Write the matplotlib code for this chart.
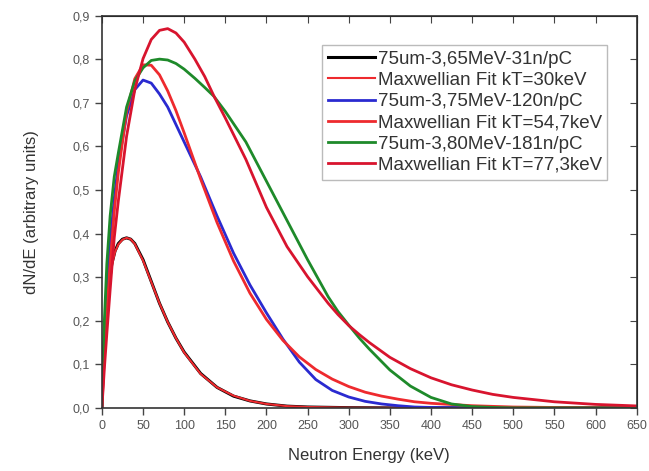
import matplotlib
matplotlib.use("Agg")
import matplotlib.pyplot as plt
from matplotlib.ticker import FuncFormatter, MultipleLocator

plt.rcParams['font.family'] = ['Liberation Sans', 'DejaVu Sans']

# energies (keV) and dN/dE values
e_30 = [0, 2, 5, 8, 12, 16, 20, 25, 30, 35, 40, 50, 60, 70, 80, 90, 100, 120, 140, 160,
        180, 200, 225, 250, 300, 350, 400, 500, 650]
black_31 = [0, 0.12, 0.20, 0.27, 0.33, 0.36, 0.377, 0.387, 0.39, 0.387, 0.377, 0.34, 0.29,
            0.24, 0.197, 0.16, 0.128, 0.079, 0.047, 0.027, 0.016, 0.009, 0.004, 0.002,
            0.0005, 0, 0, 0, 0]
fit_30 = [0, 0.10, 0.19, 0.265, 0.325, 0.358, 0.375, 0.386, 0.39, 0.387, 0.376, 0.338,
          0.289, 0.24, 0.197, 0.16, 0.127, 0.078, 0.047, 0.028, 0.016, 0.009, 0.004,
          0.002, 0.0005, 0.0001, 0, 0, 0]

e_547 = [0, 3, 6, 10, 15, 20, 30, 40, 50, 60, 70, 80, 90, 100, 120, 140, 160, 180, 200,
         220, 240, 260, 280, 300, 320, 340, 360, 380, 400, 450, 500, 550, 650]
blue_120 = [0, 0.17, 0.28, 0.38, 0.48, 0.56, 0.67, 0.73, 0.752, 0.745, 0.72, 0.69, 0.65,
            0.61, 0.53, 0.44, 0.355, 0.282, 0.218, 0.158, 0.105, 0.065, 0.040, 0.025,
            0.015, 0.009, 0.005, 0.002, 0.001, 0, 0, 0, 0]
fit_547 = [0, 0.12, 0.22, 0.33, 0.45, 0.54, 0.68, 0.755, 0.787, 0.786, 0.764, 0.727,
           0.682, 0.631, 0.525, 0.425, 0.337, 0.263, 0.203, 0.155, 0.117, 0.088, 0.066,
           0.049, 0.036, 0.027, 0.020, 0.014, 0.0105, 0.005, 0.002, 0.001, 0]

e_773 = [0, 3, 6, 10, 15, 20, 30, 40, 50, 60, 70, 80, 90, 100, 113, 125, 136, 150, 175,
         200, 225, 250, 275, 287, 300, 313, 325, 350, 375, 400, 425, 450, 475, 500, 550,
         600, 650]
green_181 = [0, 0.20, 0.33, 0.44, 0.53, 0.585, 0.69, 0.75, 0.78, 0.797, 0.80, 0.798,
             0.79, 0.777, 0.756, 0.735, 0.715, 0.68, 0.61, 0.52, 0.43, 0.34, 0.255,
             0.221, 0.19, 0.16, 0.135, 0.087, 0.05, 0.024, 0.009, 0.003, 0.001, 0, 0, 0, 0]
fit_773 = [0, 0.09, 0.17, 0.27, 0.39, 0.475, 0.623, 0.73, 0.801, 0.845, 0.866, 0.87,
           0.86, 0.839, 0.80, 0.76, 0.716, 0.665, 0.57, 0.46, 0.37, 0.301, 0.24, 0.214,
           0.189, 0.168, 0.15, 0.116, 0.09, 0.069, 0.053, 0.041, 0.031, 0.024, 0.014,
           0.008, 0.0045]

labels = ['75um-3,65MeV-31n/pC', 'Maxwellian Fit kT=30keV',
          '75um-3,75MeV-120n/pC', 'Maxwellian Fit kT=54,7keV',
          '75um-3,80MeV-181n/pC', 'Maxwellian Fit kT=77,3keV']

red = '#ee2a2e'
fig = plt.figure(figsize=(6.49, 4.71), dpi=100)
ax = fig.add_axes([0.157, 0.134, 0.824, 0.833])

ax.plot(e_30, black_31, color='black', lw=2.2, label=labels[0])
ax.plot(e_30, fit_30, color=red, lw=1.5, label=labels[1])
ax.plot(e_547, blue_120, color='#2a2ad0', lw=2.0, label=labels[2])
ax.plot(e_547, fit_547, color=red, lw=2.0, label=labels[3])
ax.plot(e_773, green_181, color='#1e8a2a', lw=2.0, label=labels[4])
ax.plot(e_773, fit_773, color='#d8142e', lw=2.0, label=labels[5])

ax.set_xlim(0, 650)
ax.set_ylim(0, 0.9)
ax.xaxis.set_major_locator(MultipleLocator(50))
ax.yaxis.set_major_locator(MultipleLocator(0.1))
ax.yaxis.set_major_formatter(FuncFormatter(lambda v, p: f"{v:.1f}".replace('.', ',')))
ax.tick_params(direction='out', length=5, width=1, labelsize=9, colors='#444444',
               labelcolor='#555555')
for s in ax.spines.values():
    s.set_color('#333333')
    s.set_linewidth(1.2)

# mirrored ticks pointing in on top and right
top = ax.secondary_xaxis('top')
top.xaxis.set_major_locator(MultipleLocator(50))
top.tick_params(direction='in', length=5, labeltop=False, colors='#444444')
right = ax.secondary_yaxis('right')
right.yaxis.set_major_locator(MultipleLocator(0.1))
right.tick_params(direction='in', length=5, labelright=False, colors='#444444')

ax.set_xlabel('Neutron Energy (keV)', fontsize=12, color='#333333', labelpad=12)
ax.set_ylabel('dN/dE (arbitrary units)', fontsize=12, color='#333333', labelpad=24)

leg = ax.legend(loc='upper right', bbox_to_anchor=(0.945, 0.925), fontsize=13.5,
                frameon=True, fancybox=False, edgecolor='#aaaaaa', handlelength=2.5,
                handletextpad=0.15, labelspacing=0.22, borderpad=0.3, borderaxespad=0)
leg.get_frame().set_linewidth(1.0)
for t in leg.get_texts():
    t.set_color('#333333')

fig.savefig('out.png', dpi=100)
